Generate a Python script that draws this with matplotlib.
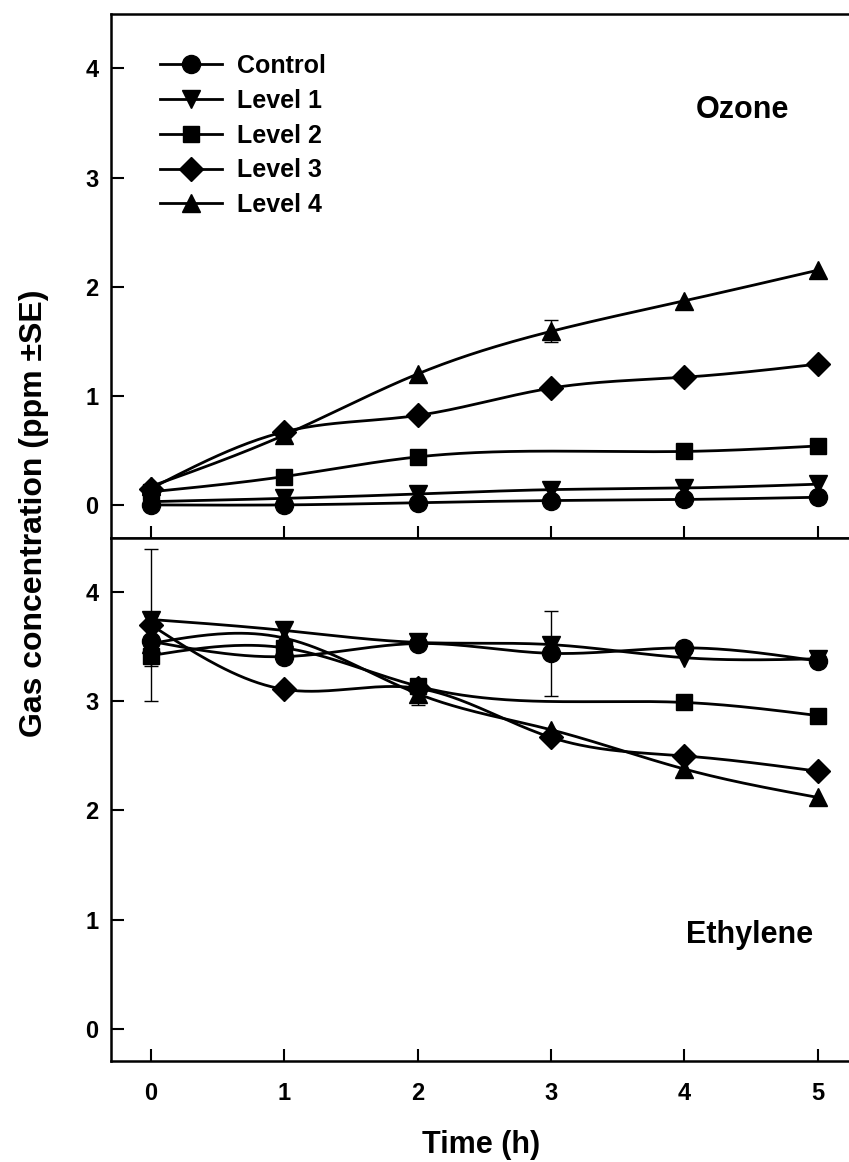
import numpy as np
import matplotlib.pyplot as plt

plt.rcParams['font.family'] = ['Liberation Sans', 'DejaVu Sans']
plt.rcParams['font.weight'] = 'bold'
plt.rcParams['axes.labelweight'] = 'bold'

# time points (h)
hours = [0, 1, 2, 3, 4, 5]
labels = ['Control', 'Level 1', 'Level 2', 'Level 3', 'Level 4']
markers = ['o', 'v', 's', 'D', '^']
msizes = [13, 13, 12, 12, 13]

# ozone (ppm), None = no point plotted
ozone_control = [0.0, 0.0, 0.02, 0.04, 0.05, 0.07]
ozone_level1 = [0.03, 0.06, 0.10, 0.14, 0.155, 0.19]
ozone_level2 = [0.12, 0.26, 0.44, None, 0.49, 0.54]
ozone_level3 = [0.15, 0.67, 0.82, 1.07, 1.17, 1.29]
ozone_level4 = [0.17, 0.64, 1.20, 1.59, 1.87, 2.15]
ozone_se = {4: (3, 0.10)}

# ethylene (ppm)
eth_control = [3.55, 3.41, 3.53, 3.44, 3.49, 3.37]
eth_level1 = [3.75, 3.65, 3.54, 3.52, 3.40, 3.39]
eth_level2 = [3.42, 3.49, 3.14, None, 2.99, 2.87]
eth_level3 = [3.70, 3.11, 3.12, 2.67, 2.50, 2.36]
eth_level4 = [3.53, 3.58, 3.07, 2.74, 2.38, 2.12]
eth_se = {0: [(0, 0.23), (3, 0.39)], 3: [(0, 0.70)], 4: [(2, 0.10)]}

ozone = [ozone_control, ozone_level1, ozone_level2, ozone_level3, ozone_level4]
ethylene = [eth_control, eth_level1, eth_level2, eth_level3, eth_level4]


def spline(x, y, n=200):
    # natural cubic spline through the points
    x = np.asarray(x, float)
    y = np.asarray(y, float)
    k = len(x)
    h = np.diff(x)
    A = np.zeros((k, k))
    b = np.zeros(k)
    A[0, 0] = A[-1, -1] = 1
    for i in range(1, k - 1):
        A[i, i - 1] = h[i - 1]
        A[i, i] = 2 * (h[i - 1] + h[i])
        A[i, i + 1] = h[i]
        b[i] = 3 * ((y[i + 1] - y[i]) / h[i] - (y[i] - y[i - 1]) / h[i - 1])
    c = np.linalg.solve(A, b)
    xs = np.linspace(x[0], x[-1], n)
    idx = np.clip(np.searchsorted(x, xs) - 1, 0, k - 2)
    dx = xs - x[idx]
    bb = (y[idx + 1] - y[idx]) / h[idx] - h[idx] * (2 * c[idx] + c[idx + 1]) / 3
    d = (c[idx + 1] - c[idx]) / (3 * h[idx])
    ys = y[idx] + bb * dx + c[idx] * dx ** 2 + d * dx ** 3
    return xs, ys


fig = plt.figure(figsize=(8.49, 11.62), dpi=100)
ax1 = fig.add_axes([0.1307, 0.5373, 0.8715, 0.4508])
ax2 = fig.add_axes([0.1307, 0.0865, 0.8715, 0.4508])

for ax, data in [(ax1, ozone), (ax2, ethylene)]:
    for i, vals in enumerate(data):
        pts = [(t, v) for t, v in zip(hours, vals) if v is not None]
        xs, ys = zip(*pts)
        sx, sy = spline(xs, ys)
        ax.plot(sx, sy, color='black', lw=2)
        ax.plot(xs, ys, linestyle='none', marker=markers[i], ms=msizes[i],
                color='black')
    ax.set_xlim(-0.3, 5.25)
    ax.set_ylim(-0.3, 4.5)
    ax.set_xticks(hours)
    ax.set_yticks([0, 1, 2, 3, 4])
    ax.tick_params(direction='in', length=9, width=1.5, labelsize=17, pad=9)
    ax.tick_params(axis='x', pad=15)
    for s in ax.spines.values():
        s.set_linewidth(1.8)

# error bars
for i, (j, se) in ozone_se.items():
    ax1.errorbar(hours[j], ozone[i][j], yerr=se, fmt='none', ecolor='black',
                 elinewidth=1, capsize=5, capthick=1)
for i, lst in eth_se.items():
    for j, se in lst:
        ax2.errorbar(hours[j], ethylene[i][j], yerr=se, fmt='none', ecolor='black',
                     elinewidth=1, capsize=5, capthick=1)

ax1.tick_params(axis='x', labelbottom=False)

# legend
handles = [plt.Line2D([], [], color='black', lw=2, marker=markers[i], ms=msizes[i])
           for i in range(5)]
ax1.legend(handles, labels, loc='upper left', bbox_to_anchor=(0.066, 0.923),
           frameon=False, prop={'size': 18, 'weight': 'bold'}, handlelength=2.5,
           handletextpad=0.6, labelspacing=0.43, borderpad=0, borderaxespad=0)

ax1.text(4.44, 3.55, 'Ozone', fontsize=22, fontweight='bold', ha='center', va='baseline')
ax2.text(4.49, 0.79, 'Ethylene', fontsize=22, fontweight='bold', ha='center', va='baseline')

ax2.set_xlabel('Time (h)', fontsize=22, fontweight='bold', labelpad=18)
fig.text(0.040, 0.558, 'Gas concentration (ppm \u00b1SE)', rotation=90,
         fontsize=23, fontweight='bold', ha='center', va='center')

fig.savefig('out.png', dpi=100)
